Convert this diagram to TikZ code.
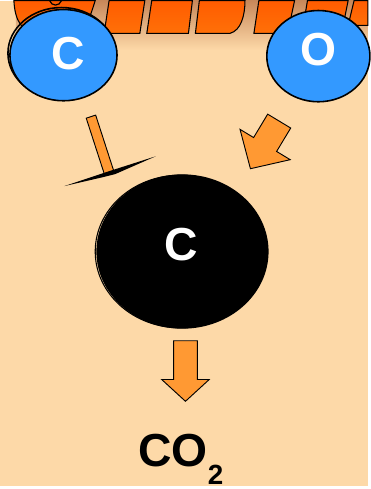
\documentclass[tikz,border=0pt]{standalone}
\usepackage{fontspec}
\setmainfont{Liberation Sans}
\usetikzlibrary{shapes.geometric,calc}
\definecolor{peach}{RGB}{253,217,168}
\definecolor{atomblue}{RGB}{51,153,255}
\definecolor{arroworange}{RGB}{255,153,51}
\definecolor{titletop}{RGB}{255,92,0}
\definecolor{titlebottom}{RGB}{255,112,8}
\definecolor{shadowbrown}{RGB}{200,136,90}

\begin{document}
\begin{tikzpicture}[x=0.75pt, y=-0.75pt, line width=0.9pt,
  atom/.style={ellipse, draw=black, line width=1.2pt, inner sep=0pt},
  atomlabel/.style={text=white, anchor=base, font=\fontsize{35}{40}\selectfont\bfseries},
  blockarrow/.style={fill=arroworange, draw=black, line width=0.7pt, line join=miter},
  letter/.style={top color=titletop, bottom color=titlebottom, draw=black, line width=0.8pt}]
  % background and title shadow
  \fill[peach] (0,0) rectangle (371,489);
  \shade[top color=shadowbrown, bottom color=peach] (16,0) rectangle (371,50);
  % cut-off title letters
  \draw[letter] (14,0) .. controls (15,20) and (22,33) .. (40,33) -- (75,33) .. controls (88,25) .. (96,0) -- cycle;
  \draw (50,0) .. controls (52,6) and (60,6) .. (62,0);
  \draw[letter] (110,0) -- (105,33) -- (141,33) -- (146,0) -- cycle;
  \draw[letter] (153,0) -- (148,33) -- (190,33) -- (194,0) -- cycle;
  \draw[letter] (201,0) -- (197,33) -- (232,33) .. controls (243,30) and (247,15) .. (247,0) -- cycle;
  \draw[letter] (261,0) -- (256,33) -- (290,33) -- (297,0) -- cycle;
  \draw[letter] (310,0) -- (305,30) -- (345,30) -- (351,0) -- cycle;
  \draw[letter] (357,0) -- (351,25) -- (371,25) -- (371,0) -- cycle;
  % atoms
  \node[atom, minimum width=81pt, minimum height=69pt] (Cedge) at (62,53) {};
  \node[atom, fill=atomblue, minimum width=81pt, minimum height=69pt] (Catom) at (64,55) {};
  \node[atomlabel] (Clabel) at (69,69) {C};
  \node[atom, fill=atomblue, minimum width=78pt, minimum height=69pt] (Oatom) at (321,56) {};
  \node[atomlabel] (Olabel) at (321,65) {O};
  \node[atom, line width=0.8pt, minimum width=129pt, minimum height=115.5pt] (Ccoreedge) at (182,253) {};
  \node[atom, fill=black, minimum width=129pt, minimum height=115.5pt] (Ccore) at (184,253) {};
  \node[atomlabel] (Ccorelabel) at (183,262) {C};
  % blocked path from C
  \coordinate (bartop) at (91.7,117);
  \coordinate (barend) at (110,173.5);
  \draw[blockarrow] ($(bartop)!3.75pt!90:(barend)$) -- ($(bartop)!3.75pt!-90:(barend)$)
    -- ($(barend)!3.75pt!90:(bartop)$) -- ($(barend)!3.75pt!-90:(bartop)$) -- cycle;
  \fill (65,187) -- (110,172) -- (157,157) -- (116,175) -- (104,178) -- cycle;
  % arrow from O
  \draw[blockarrow] (269.9,114.5) -- (293.1,128.5) -- (278.9,152.1) -- (292.6,160.4)
    -- (252.5,169.5) -- (242.0,129.8) -- (255.7,138.1) -- cycle;
  % arrow to product
  \draw[blockarrow] (175,343) -- (199,343) -- (199,382) -- (211,382) -- (187,404)
    -- (163,382) -- (175,382) -- cycle;
  \node[anchor=base, font=\fontsize{35}{40}\selectfont\bfseries] (product) at (182.5,470)
    {CO\raisebox{-13.5pt}{\fontsize{21}{24}\selectfont 2}};
\end{tikzpicture}
\end{document}
